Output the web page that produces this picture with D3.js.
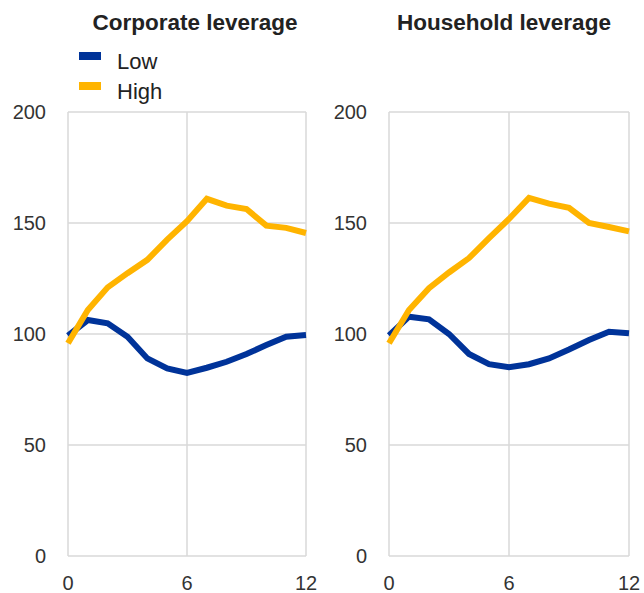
<!DOCTYPE html>
<html><head><meta charset="utf-8">
<script src="https://cdn.jsdelivr.net/npm/d3@7"></script>
<style>body{margin:0;background:#fff}svg{display:block}</style>
</head><body>
<script>
const horizons = [0,1,2,3,4,5,6,7,8,9,10,11,12];
const corpLow  = [99.3,106.3,104.8,98.8,89,84.5,82.5,84.8,87.5,91,95,98.8,99.5];
const corpHigh = [95.8,110.8,121,127.4,133.4,142.5,150.8,160.9,157.8,156.3,148.8,147.8,145.5];
const hhLow    = [99.3,107.8,106.6,100,91,86.4,85,86.4,89,93,97.3,101,100.3];
const hhHigh   = [95.8,110.8,120.6,127.7,134.2,143.2,151.8,161.3,158.7,156.8,150,148.2,146.2];
const yTicks = [0,50,100,150,200];
const xTicks = [0,6,12];
const panelTitles = ["Corporate leverage","Household leverage"];
const seriesNames = ["Low","High"];
const colors = ["#003399","#FFB400"];

const W=644,H=593;
const svg=d3.select("body").append("svg").attr("width",W).attr("height",H);
const font="'Liberation Sans', Arial, sans-serif";
const panels=[
  {x0:68,x1:306,title:panelTitles[0],data:[corpLow,corpHigh],tx:195},
  {x0:389,x1:629,title:panelTitles[1],data:[hhLow,hhHigh],tx:504}
];
const yTop=112,yBot=556;
const y=d3.scaleLinear().domain([0,200]).range([yBot,yTop]);
panels.forEach(p=>{
  const x=d3.scaleLinear().domain([0,12]).range([p.x0,p.x1]);
  const g=svg.append("g");
  g.selectAll(".hg").data(yTicks).join("line")
    .attr("x1",p.x0).attr("x2",p.x1).attr("y1",d=>y(d)).attr("y2",d=>y(d))
    .attr("stroke","#d9d9d9").attr("stroke-width",1.5);
  g.selectAll(".vg").data(xTicks).join("line")
    .attr("x1",d=>x(d)).attr("x2",d=>x(d)).attr("y1",yTop).attr("y2",yBot)
    .attr("stroke","#d9d9d9").attr("stroke-width",1.5);
  g.selectAll(".yl").data(yTicks).join("text")
    .attr("x",p.x0-22).attr("y",d=>y(d)+7).attr("text-anchor","end")
    .attr("font-family",font).attr("font-size",20).attr("fill","#333").text(d=>d);
  g.selectAll(".xl").data(xTicks).join("text")
    .attr("x",d=>x(d)).attr("y",590).attr("text-anchor","middle")
    .attr("font-family",font).attr("font-size",20).attr("fill","#333").text(d=>d);
  const line=d3.line().x((d,i)=>x(horizons[i])).y(d=>y(d));
  p.data.forEach((s,k)=>{
    g.append("path").datum(s).attr("d",line).attr("fill","none")
      .attr("stroke",colors[k]).attr("stroke-width",6).attr("stroke-linejoin","miter");
  });
  g.append("text").attr("x",p.tx).attr("y",30).attr("text-anchor","middle")
    .attr("font-family",font).attr("font-size",22.5).attr("font-weight","bold").attr("fill","#222").text(p.title);
});
seriesNames.forEach((n,i)=>{
  svg.append("rect").attr("x",79).attr("y",52+i*30).attr("width",22).attr("height",8).attr("fill",colors[i]);
  svg.append("text").attr("x",117).attr("y",69+i*30).attr("font-family",font).attr("font-size",22)
    .attr("fill","#222").text(n);
});
</script>
</body></html>
